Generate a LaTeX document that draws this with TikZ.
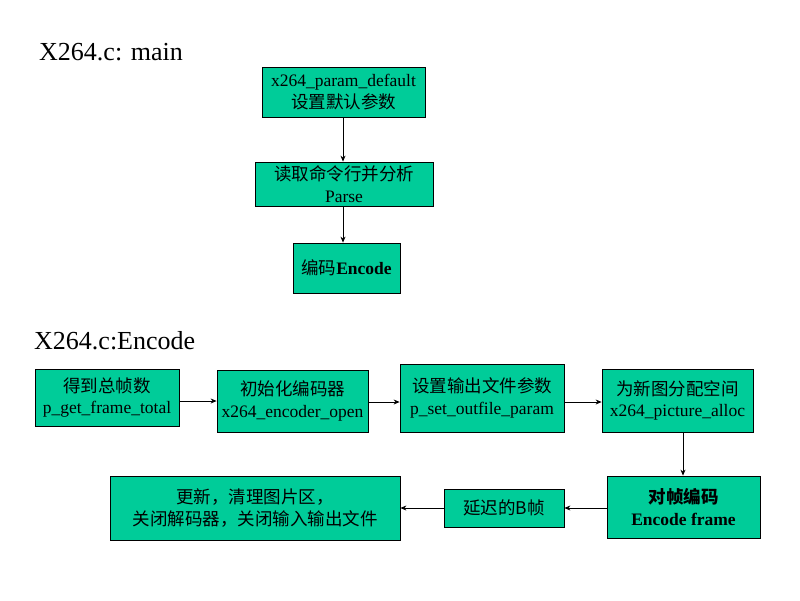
\documentclass[tikz,border=0pt]{standalone}
\usepackage{fontspec}
\setmainfont{Liberation Serif}
\newfontfamily\cjk{Noto Sans CJK SC}
\usetikzlibrary{arrows.meta}
\definecolor{boxgreen}{HTML}{00CC99}
\begin{document}
\begin{tikzpicture}[x=1pt,y=-1pt,
  box/.style={draw=black,line width=0.8pt,fill=boxgreen,align=center,inner sep=0pt,font=\fontsize{17.5}{21.5}\selectfont},
  arr/.style={-{Stealth[length=6pt,width=5pt]},line width=0.7pt},
  title/.style={anchor=west,inner sep=0pt,font=\fontsize{26}{30}\selectfont}]
\useasboundingbox (0,0) rectangle (800,600);
\node[title] (t1) at (39,52) {X264.c: main};
\node[title] (t2) at (34,341) {X264.c:Encode};
% top chain
\node[box,minimum width=163pt,minimum height=50pt] (p1) at (343.5,92) {x264\_param\_default\\{\cjk 设置默认参数}};
\node[box,minimum width=178pt,minimum height=44pt] (p2) at (344,184) {{\cjk 读取命令行并分析}\\Parse};
\node[box,minimum width=107pt,minimum height=50pt] (p3) at (346.5,268) {{\cjk 编码}\textbf{Encode}};
\draw[arr] (p1.south -| 343,0) -- (343,0 |- p2.north);
\draw[arr] (p2.south -| 343,0) -- (343,0 |- p3.north);
% encode row
\node[box,minimum width=144pt,minimum height=57pt] (a) at (107,397.5) {{\cjk 得到总帧数}\\p\_get\_frame\_total};
\node[box,minimum width=151pt,minimum height=62pt] (b) at (292.5,401) {{\cjk 初始化编码器}\\x264\_encoder\_open};
\node[box,minimum width=164pt,minimum height=68pt] (c) at (482,398) {{\cjk 设置输出文件参数}\\p\_set\_outfile\_param};
\node[box,minimum width=151pt,minimum height=63pt] (d) at (677.5,400.5) {{\cjk 为新图分配空间}\\x264\_picture\_alloc};
\node[box,minimum width=153pt,minimum height=62pt] (e) at (683.5,507) {{\cjk\bfseries 对帧编码}\\\textbf{Encode frame}};
\node[box,minimum width=120pt,minimum height=38pt] (f) at (504,508) {{\cjk 延迟的B帧}};
\node[box,minimum width=290pt,minimum height=64pt] (g) at (255,508) {{\cjk 更新，清理图片区，}\\{\cjk 关闭解码器，关闭输入输出文件}};
\draw[arr] (a.east |- b) -- (b.west);
\draw[arr] (b.east |- 0,402) -- (c.west |- 0,402);
\draw[arr] (c.east |- 0,402) -- (d.west |- 0,402);
\draw[arr] (d.south -| 683,0) -- (683,0 |- e.north);
\draw[arr] (e.west |- f) -- (f.east);
\draw[arr] (f.west) -- (g.east |- f);
\end{tikzpicture}
\end{document}
